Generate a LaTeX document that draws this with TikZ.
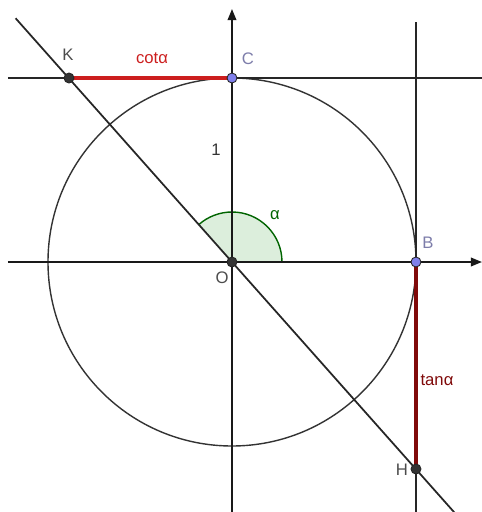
\documentclass[tikz,border=0pt]{standalone}
\usepackage{fontspec}
\setmainfont{Liberation Sans}
\usetikzlibrary{arrows.meta,backgrounds}

\begin{document}
\begin{tikzpicture}[
  x=0.02cm, y=0.02cm,
  font=\fontsize{9.5}{11}\selectfont,
  axis/.style={draw=black!90, line width=1pt, -{Triangle[length=0.22cm, width=0.17cm]}},
  guide/.style={draw=black!85, line width=0.8pt},
  unit/.style={draw=black!80, line width=0.8pt},
  seg/.style={line width=2pt},
  pt/.style={circle, inner sep=0pt, minimum size=0.2cm, draw=black!85, line width=0.5pt},
  lab/.style={inner sep=1pt}
]
\definecolor{ptDark}{RGB}{51,51,51}
\definecolor{ptBlue}{RGB}{128,128,235}
\definecolor{labBlue}{RGB}{125,125,170}
\definecolor{cotRed}{RGB}{204,30,30}
\definecolor{tanRed}{RGB}{128,10,10}
\definecolor{angEdge}{RGB}{0,100,0}
\definecolor{angFill}{RGB}{220,238,220}

\useasboundingbox (-232,-250) rectangle (250,262);

\node[pt, fill=ptDark] (O) at (0,0) {};
\node[pt, fill=ptBlue] (C) at (0,184) {};
\node[pt, fill=ptBlue] (B) at (184,0) {};
\node[pt, fill=ptDark] (K) at (-163,184) {};
\node[pt, fill=ptDark] (H) at (184,-207) {};

\coordinate (xl) at (-224,0);
\coordinate (xr) at (250,0);
\coordinate (yb) at (0,-252);
\coordinate (yt) at (0,253);
\coordinate (cl) at (-224,184);
\coordinate (cr) at (252,184);
\coordinate (tb) at (184,-252);
\coordinate (tt) at (184,240);
\coordinate (sl) at (131.6:326);
\coordinate (sr) at (311.6:336);

\begin{scope}[on background layer]
  \fill[angFill] (O.center) -- (50,0) arc[start angle=0, end angle=131.6, radius=50] -- cycle;
  \draw[angEdge, line width=0.8pt] (50,0) arc[start angle=0, end angle=131.6, radius=50];
  \draw[unit] (O.center) circle[radius=184];
  \draw[guide] (cl) -- (cr);
  \draw[guide] (tb) -- (tt);
  \draw[guide, line width=1pt] (sl) -- (sr);
  \draw[axis] (xl) -- (xr);
  \draw[axis] (yb) -- (yt);
  \draw[seg, cotRed] (K.center) -- (C.center);
  \draw[seg, tanRed] (B.center) -- (H.center);
\end{scope}

\node[lab, text=black!70] (labK) at (-164,207) {K};
\node[lab, text=labBlue] (labC) at (16,203) {C};
\node[lab, text=labBlue] (labB) at (196,19) {B};
\node[lab, text=black!70] (labO) at (-10,-16) {O};
\node[lab, text=black!70] (labH) at (170,-208) {H};
\node[lab, text=black!80] (labOne) at (-16,112) {1};
\node[lab, text=angEdge] (labA) at (43,47) {α};
\node[lab, text=cotRed] (labCot) at (-80,204) {cotα};
\node[lab, text=tanRed] (labTan) at (205,-118) {tanα};
\end{tikzpicture}
\end{document}
